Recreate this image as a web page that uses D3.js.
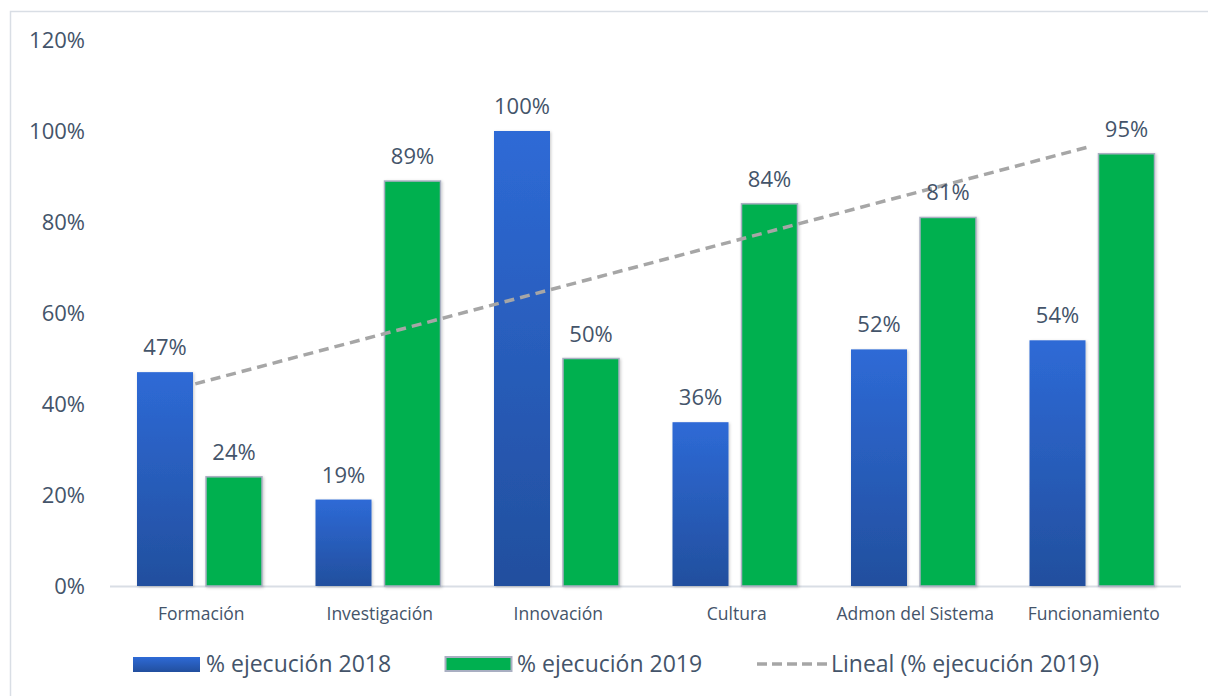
<!DOCTYPE html>
<html>
<head>
<meta charset="utf-8">
<script src="https://cdn.jsdelivr.net/npm/d3@7"></script>
<style>
  body { margin: 0; background: #fff; }
  text { font-family: "Open Sans", "Noto Sans", sans-serif; fill: #44546A; }
</style>
</head>
<body>
<svg id="chart" width="1208" height="696"></svg>
<script>
var categories = ["Formación", "Investigación", "Innovación", "Cultura", "Admon del Sistema", "Funcionamiento"];
var ejec2018 = [47, 19, 100, 36, 52, 54];
var ejec2019 = [24, 89, 50, 84, 81, 95];
var yTicks = [0, 20, 40, 60, 80, 100, 120];
var legendLabels = ["% ejecución 2018", "% ejecución 2019", "Lineal (% ejecución 2019)"];

var svg = d3.select("#chart");
var pLeft = 110, pRight = 1181, pTop = 40, pBottom = 586;

// frame
svg.append("rect")
    .attr("x", 10.5).attr("y", 11.5)
    .attr("width", 1220).attr("height", 700)
    .style("fill", "none").style("stroke", "#D9DEE5").style("stroke-width", 1.5);

var defs = svg.append("defs");
var grad = defs.append("linearGradient")
    .attr("id", "blueGrad").attr("x1", 0).attr("y1", 0).attr("x2", 0).attr("y2", 1);
grad.append("stop").attr("offset", "0%").attr("stop-color", "#2E6AD6");
grad.append("stop").attr("offset", "100%").attr("stop-color", "#224F9E");

var shadow = defs.append("filter").attr("id", "shadow")
    .attr("x", "-20%").attr("y", "-5%").attr("width", "140%").attr("height", "110%");
shadow.append("feDropShadow")
    .attr("dx", 1).attr("dy", 1).attr("stdDeviation", 1.5)
    .attr("flood-color", "#000").attr("flood-opacity", 0.22);

var x = d3.scaleBand().domain(categories).range([pLeft, pRight]).padding(0);
var y = d3.scaleLinear().domain([0, 120]).range([pBottom, pTop]);

// y tick labels
svg.append("g").selectAll("text")
    .data(yTicks).enter().append("text")
    .attr("x", 85)
    .attr("y", function(d) { return y(d); })
    .attr("dy", "0.35em")
    .attr("text-anchor", "end")
    .style("font-size", "22px")
    .text(function(d) { return d + "%"; });

// baseline
svg.append("line")
    .attr("x1", pLeft).attr("x2", pRight)
    .attr("y1", pBottom + 0.5).attr("y2", pBottom + 0.5)
    .style("stroke", "#D9DEE5").style("stroke-width", 2);

var bw = 56;
var off1 = 27, off2 = 96;

var g = svg.append("g");
g.selectAll(".b18").data(categories).enter().append("rect")
    .attr("class", "b18")
    .attr("x", function(d) { return x(d) + off1; })
    .attr("y", function(d, i) { return y(ejec2018[i]); })
    .attr("width", bw)
    .attr("height", function(d, i) { return pBottom - y(ejec2018[i]); })
    .style("fill", "url(#blueGrad)")
    .attr("filter", "url(#shadow)");

g.selectAll(".b19").data(categories).enter().append("rect")
    .attr("class", "b19")
    .attr("x", function(d) { return x(d) + off2; })
    .attr("y", function(d, i) { return y(ejec2019[i]); })
    .attr("width", bw)
    .attr("height", function(d, i) { return pBottom - y(ejec2019[i]); })
    .style("fill", "#00B050")
    .style("stroke", "#A9AFC2").style("stroke-width", 1.5)
    .attr("filter", "url(#shadow)");

// trendline (linear fit of 2019 values)
var n = ejec2019.length;
var xs = d3.range(1, n + 1);
var mx = d3.mean(xs), my = d3.mean(ejec2019);
var sxy = d3.sum(xs, function(v, i) { return (v - mx) * (ejec2019[i] - my); });
var sxx = d3.sum(xs, function(v) { return (v - mx) * (v - mx); });
var slope = sxy / sxx, icpt = my - slope * mx;
var cx = function(i) { return x(categories[i]) + x.bandwidth() / 2; };

svg.append("line")
    .attr("x1", cx(0) - 4).attr("y1", y(icpt + slope * 1))
    .attr("x2", cx(n - 1) - 2).attr("y2", y(icpt + slope * n))
    .style("stroke", "#A6A6A6").style("stroke-width", 3.5)
    .style("stroke-dasharray", "10,6");

// data labels
var lab = svg.append("g").style("font-size", "22px").attr("text-anchor", "middle");
lab.selectAll(".l18").data(categories).enter().append("text")
    .attr("x", function(d) { return x(d) + off1 + bw / 2; })
    .attr("y", function(d, i) { return y(ejec2018[i]) - 17; })
    .text(function(d, i) { return ejec2018[i] + "%"; });
lab.selectAll(".l19").data(categories).enter().append("text")
    .attr("x", function(d) { return x(d) + off2 + bw / 2; })
    .attr("y", function(d, i) { return y(ejec2019[i]) - 17; })
    .text(function(d, i) { return ejec2019[i] + "%"; });

// category labels
svg.append("g").selectAll("text")
    .data(categories).enter().append("text")
    .attr("x", function(d) { return x(d) + x.bandwidth() / 2 + 2; })
    .attr("y", 620)
    .attr("text-anchor", "middle")
    .style("font-size", "17.5px")
    .text(function(d) { return d; });

// legend
var ly = 664;
var leg = svg.append("g").style("font-size", "23px");
leg.append("rect").attr("x", 133).attr("y", ly - 7).attr("width", 67).attr("height", 15)
    .style("fill", "url(#blueGrad)");
leg.append("text").attr("x", 206).attr("y", ly).attr("dy", "0.35em").text(legendLabels[0]);
leg.append("rect").attr("x", 445.5).attr("y", ly - 7).attr("width", 66).attr("height", 14)
    .style("fill", "#00B050").style("stroke", "#A9AFC2").style("stroke-width", 2);
leg.append("text").attr("x", 517).attr("y", ly).attr("dy", "0.35em").text(legendLabels[1]);
leg.append("line").attr("x1", 757).attr("x2", 828).attr("y1", ly).attr("y2", ly)
    .style("stroke", "#A6A6A6").style("stroke-width", 3.5).style("stroke-dasharray", "10,5");
leg.append("text").attr("x", 831).attr("y", ly).attr("dy", "0.35em").text(legendLabels[2]);
</script>
</body>
</html>
